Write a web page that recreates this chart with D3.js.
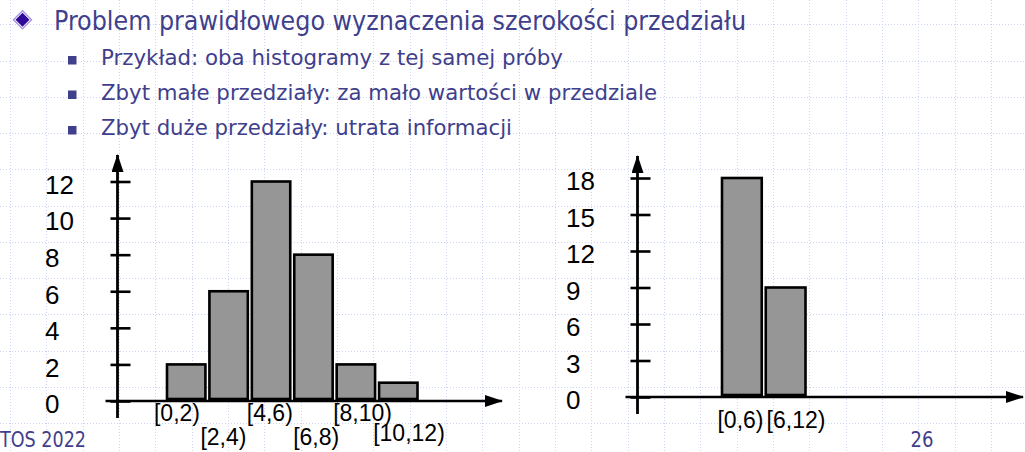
<!DOCTYPE html>
<html>
<head>
<meta charset="utf-8">
<script src="https://cdn.jsdelivr.net/npm/d3@7"></script>
<style>
  html, body { margin: 0; padding: 0; background: #ffffff; overflow: hidden; }
  svg { display: block; }
  .head { fill: #3f3f8c; font-family: "DejaVu Sans Condensed", "DejaVu Sans", sans-serif; }
  .num { font-family: "Liberation Sans", Arial, sans-serif; fill: #000; }
</style>
</head>
<body>
<div id="slide"></div>
<script>
// Data
//-------------------------------------------------------
var titleText = "Problem prawidłowego wyznaczenia szerokości przedziału";
var bulletTexts = [
    "Przykład: oba histogramy z tej samej próby",
    "Zbyt małe przedziały: za mało wartości w przedziale",
    "Zbyt duże przedziały: utrata informacji"
];

// narrow bins (width 2)
var smallBins = ["[0,2)", "[2,4)", "[4,6)", "[6,8)", "[8,10)", "[10,12)"];
var smallLo = [0, 2, 4, 6, 8, 10];
var smallHi = [2, 4, 6, 8, 10, 12];
var smallCounts = [2, 6, 12, 8, 2, 1];
var smallTicks = [0, 2, 4, 6, 8, 10, 12];

// wide bins (width 6)
var wideBins = ["[0,6)", "[6,12)"];
var wideLo = [0, 6];
var wideHi = [6, 12];
var wideCounts = [18, 9];
var wideTicks = [0, 3, 6, 9, 12, 15, 18];

var footerLeft = "TOS 2022";
var pageNumber = "26";

// SVG
//-------------------------------------------------------
var svgWidth = 1025;
var svgHeight = 452;

var svg = d3.select("#slide")
    .append("svg")
    .attr("width", svgWidth)
    .attr("height", svgHeight);

svg.append("defs").append("marker")
    .attr("id", "arrow")
    .attr("viewBox", "0 0 18 12")
    .attr("refX", 17)
    .attr("refY", 6)
    .attr("markerWidth", 18)
    .attr("markerHeight", 12)
    .attr("markerUnits", "userSpaceOnUse")
    .attr("orient", "auto")
    .append("path")
    .attr("d", "M0,0 L18,6 L0,12 Z")
    .attr("fill", "#000");

// Background dotted grid
//-------------------------------------------------------
var grid = svg.append("g")
    .attr("stroke", "#ccd3f6")
    .attr("stroke-width", 1)
    .attr("stroke-dasharray", "1,2");

d3.range(0, 28).forEach(function(k) {
    var gx = Math.round(10 + 36.33 * k) + 0.5;
    grid.append("line").attr("x1", gx).attr("x2", gx).attr("y1", 0).attr("y2", svgHeight);
});
d3.range(0, 12).forEach(function(k) {
    var gy = Math.round(24.3 + 36.27 * k) + 0.5;
    grid.append("line").attr("x1", 0).attr("x2", svgWidth).attr("y1", gy).attr("y2", gy);
});

// Header text
//-------------------------------------------------------
var bx = 22.5, by = 19.7;
svg.append("path").attr("d", `M${bx},${by-10} L${bx+10},${by} L${bx},${by+10} L${bx-10},${by} Z`).attr("fill", "#a898dc");
svg.append("path").attr("d", `M${bx},${by-8} L${bx+8},${by} L${bx},${by+8} L${bx-8},${by} Z`).attr("fill", "#ffffff");
svg.append("path").attr("d", `M${bx},${by-7} L${bx+7},${by} L${bx},${by+7} L${bx-7},${by} Z`).attr("fill", "#2f0a98");

svg.append("text")
    .attr("class", "head")
    .attr("x", 54)
    .attr("y", 30)
    .attr("font-size", 27)
    .attr("textLength", 692)
    .attr("lengthAdjust", "spacingAndGlyphs")
    .text(titleText);

var bulletY = [65, 99.5, 135];
var bulletW = [462, 556, 411];
bulletTexts.forEach(function(t, i) {
    svg.append("rect")
        .attr("x", 68).attr("y", bulletY[i] - 9)
        .attr("width", 8.5).attr("height", 8.5)
        .attr("fill", "#3f3f8c");
    svg.append("text")
        .attr("class", "head")
        .attr("x", 101)
        .attr("y", bulletY[i])
        .attr("font-size", 22)
        .attr("textLength", bulletW[i])
        .attr("lengthAdjust", "spacingAndGlyphs")
        .text(t);
});

// Histogram drawing
//-------------------------------------------------------
function drawHistogram(cfg) {
    var g = svg.append("g");

    var y = d3.scaleLinear().domain([0, cfg.yMax]).range([cfg.y0, cfg.yTop]);
    var x = d3.scaleLinear().domain([0, 12]).range(cfg.xRange);
    var xLab = d3.scalePoint().domain(cfg.bins).range(cfg.labelRange);

    // bars
    g.selectAll("rect.bar")
        .data(cfg.counts)
        .enter()
        .append("rect")
        .attr("class", "bar")
        .attr("x", (d, i) => x(cfg.lo[i]) + 2)
        .attr("width", (d, i) => x(cfg.hi[i]) - x(cfg.lo[i]) - 4)
        .attr("y", d => y(d))
        .attr("height", d => y(0) - y(d) - 2)
        .attr("fill", "#969696")
        .attr("stroke", "#000")
        .attr("stroke-width", 2.6);

    // x axis with arrow
    g.append("line")
        .attr("x1", cfg.axisX - 12).attr("x2", cfg.xEnd)
        .attr("y1", y(0)).attr("y2", y(0))
        .attr("stroke", "#000").attr("stroke-width", 2.6)
        .attr("marker-end", "url(#arrow)");

    // y axis with arrow
    g.append("line")
        .attr("x1", cfg.axisX).attr("x2", cfg.axisX)
        .attr("y1", y(0) + 17).attr("y2", cfg.yEnd)
        .attr("stroke", "#000").attr("stroke-width", 2.8)
        .attr("marker-end", "url(#arrow)");

    // ticks crossing the y axis
    var tickAxis = d3.axisRight(y)
        .tickValues(cfg.ticks)
        .tickSize(20)
        .tickFormat("");
    var tg = g.append("g")
        .attr("transform", `translate(${cfg.axisX - 7},0)`)
        .call(tickAxis);
    tg.select(".domain").remove();
    tg.selectAll(".tick line").attr("stroke", "#000").attr("stroke-width", 2.6);

    // tick labels
    g.selectAll("text.ylab")
        .data(cfg.ticks)
        .enter()
        .append("text")
        .attr("class", "num ylab")
        .attr("x", cfg.labelX)
        .attr("y", d => y(d) + 3)
        .attr("dy", "0.36em")
        .attr("font-size", 26)
        .text(d => d);

    // bin labels
    g.selectAll("text.xlab")
        .data(cfg.bins)
        .enter()
        .append("text")
        .attr("class", "num xlab")
        .attr("x", d => xLab(d))
        .attr("y", (d, i) => cfg.labelRows[i])
        .attr("dy", "0.36em")
        .attr("text-anchor", "middle")
        .attr("font-size", 23)
        .text(d => d);
}

drawHistogram({
    bins: smallBins, lo: smallLo, hi: smallHi, counts: smallCounts, ticks: smallTicks,
    yMax: 12, y0: 401, yTop: 181.5,
    xRange: [165, 419.5], labelRange: [177, 409],
    labelRows: [413, 437, 413, 437, 413, 433],
    axisX: 117.5, xEnd: 502, yEnd: 155, labelX: 45
});

drawHistogram({
    bins: wideBins, lo: wideLo, hi: wideHi, counts: wideCounts, ticks: wideTicks,
    yMax: 18, y0: 397, yTop: 178,
    xRange: [720, 807.5], labelRange: [740.5, 796],
    labelRows: [420, 420],
    axisX: 637.5, xEnd: 1023, yEnd: 156, labelX: 566
});

// Footer
//-------------------------------------------------------
svg.append("text")
    .attr("class", "head")
    .attr("x", 0)
    .attr("y", 446.5)
    .attr("font-size", 21)
    .attr("textLength", 86)
    .attr("lengthAdjust", "spacingAndGlyphs")
    .attr("fill", "#4a4a9c")
    .text(footerLeft);

svg.append("text")
    .attr("class", "head")
    .attr("x", 910.5)
    .attr("y", 446.5)
    .attr("font-size", 21)
    .attr("textLength", 23)
    .attr("lengthAdjust", "spacingAndGlyphs")
    .text(pageNumber);
</script>
</body>
</html>
